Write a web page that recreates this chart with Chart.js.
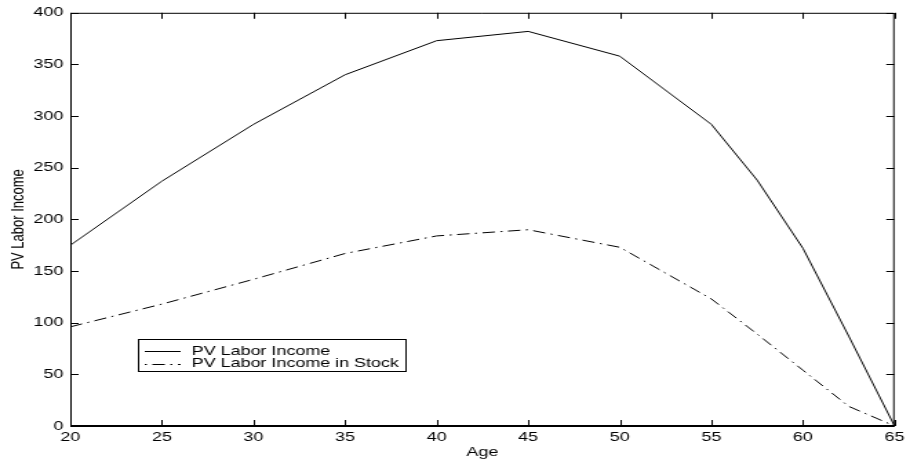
<!DOCTYPE html>
<html>
<head>
<meta charset="utf-8">
<title>PV Labor Income</title>
<script src="https://cdn.jsdelivr.net/npm/chart.js@4.4.1/dist/chart.umd.min.js"></script>
<style>
  html, body { margin: 0; padding: 0; background: #fff; overflow: hidden; }
  /* the figure is drawn narrow and stretched sideways, like the original export */
  #wrap { width: 660px; height: 465px; transform: scaleX(1.37879); transform-origin: 0 0; }
  canvas { display: block; }
</style>
</head>
<body>
<div id="wrap"><canvas id="chart" width="660" height="465"></canvas></div>
<script>
// ----------------------------------------
// Data
// ----------------------------------------
const ages = [20, 25, 30, 35, 40, 45, 50, 55, 57.5, 60, 62.5, 65];
const laborIncome = [175, 237, 292, 340, 373, 382, 358, 292, 238, 172, 87, 0];
const laborIncomeStock = [96, 118, 142, 167, 184, 190, 173, 123, 89, 54, 19, 0];
const seriesLabels = ["PV Labor Income", "PV Labor Income in Stock"];
const xTitle = "Age";
const yTitle = "PV Labor Income";

const FONT = "'Liberation Sans', Arial, Helvetica, sans-serif";

function toPoints(values) {
    return values.map((v, i) => ({ x: ages[i], y: v }));
}

// ----------------------------------------
// Box with inward ticks (matlab style)
// ----------------------------------------
const axesBox = {
    id: "axesBox",
    afterDatasetsDraw(chart) {
        const { ctx, chartArea: a, scales } = chart;
        const len = 6;
        ctx.save();
        ctx.strokeStyle = "#000";
        ctx.lineWidth = 1;
        ctx.beginPath();
        ctx.moveTo(a.left + 0.5, a.bottom);
        ctx.lineTo(a.left + 0.5, a.top + 0.5);
        ctx.lineTo(a.right - 0.5, a.top + 0.5);
        ctx.lineTo(a.right - 0.5, a.bottom);
        ctx.stroke();

        ctx.lineWidth = 2;
        ctx.beginPath();
        ctx.moveTo(a.left, a.bottom);
        ctx.lineTo(a.right, a.bottom);
        ctx.stroke();

        ctx.lineWidth = 1;
        ctx.beginPath();
        scales.x.ticks.forEach((t) => {
            const px = Math.round(scales.x.getPixelForValue(t.value)) + 0.5;
            ctx.moveTo(px, a.bottom);
            ctx.lineTo(px, a.bottom - len);
            ctx.moveTo(px, a.top);
            ctx.lineTo(px, a.top + len);
        });
        scales.y.ticks.forEach((t) => {
            const py = Math.round(scales.y.getPixelForValue(t.value)) + 0.5;
            ctx.moveTo(a.left, py);
            ctx.lineTo(a.left + len, py);
            ctx.moveTo(a.right, py);
            ctx.lineTo(a.right - len, py);
        });
        ctx.stroke();
        ctx.restore();
    }
};

// ----------------------------------------
// Legend box inside the plot
// ----------------------------------------
const boxLegend = {
    id: "boxLegend",
    afterDraw(chart) {
        const { ctx } = chart;
        const left = 100, top = 339, right = 295, bottom = 372;
        const rows = [351, 363.5];
        ctx.save();
        ctx.fillStyle = "#fff";
        ctx.fillRect(left, top, right - left, bottom - top);
        ctx.strokeStyle = "#000";
        ctx.lineWidth = 1;
        ctx.strokeRect(left + 0.5, top + 0.5, right - left - 1, bottom - top - 1);

        chart.data.datasets.forEach((ds, i) => {
            const y = Math.round(rows[i]) + 0.5;
            ctx.beginPath();
            ctx.strokeStyle = ds.borderColor;
            ctx.lineWidth = ds.borderWidth;
            ctx.setLineDash(ds.borderDash || []);
            ctx.lineDashOffset = ds.borderDash ? 13 : 0;
            ctx.moveTo(105, y);
            ctx.lineTo(131, y);
            ctx.stroke();
            ctx.setLineDash([]);

            ctx.fillStyle = "#000";
            ctx.font = "13px " + FONT;
            ctx.textAlign = "left";
            ctx.textBaseline = "middle";
            ctx.fillText(ds.label, 139, rows[i]);
        });
        ctx.restore();
    }
};

const chart = new Chart(document.getElementById("chart"), {
    type: "line",
    data: {
        datasets: [
            {
                label: seriesLabels[0],
                data: toPoints(laborIncome),
                borderColor: "#000",
                borderWidth: 1,
                pointRadius: 0,
                tension: 0,
                fill: false
            },
            {
                label: seriesLabels[1],
                data: toPoints(laborIncomeStock),
                borderColor: "#000",
                borderWidth: 1,
                borderDash: [9, 4, 1.5, 4],
                pointRadius: 0,
                tension: 0,
                fill: false
            }
        ]
    },
    options: {
        responsive: false,
        animation: false,
        devicePixelRatio: 1,
        layout: { padding: { top: 8, right: 9, left: 0, bottom: 0 } },
        plugins: {
            legend: { display: false },
            tooltip: { enabled: false }
        },
        scales: {
            x: {
                type: "linear",
                min: 20,
                max: 65,
                afterFit(scale) { scale.height = 39; },
                grid: { display: false, drawTicks: false },
                border: { display: false },
                ticks: {
                    stepSize: 5,
                    autoSkip: false,
                    maxRotation: 0,
                    padding: 4,
                    color: "#000",
                    font: { family: FONT, size: 13 }
                },
                title: {
                    display: true,
                    text: xTitle,
                    color: "#000",
                    padding: { top: 0, bottom: 5 },
                    font: { family: FONT, size: 13 }
                }
            },
            y: {
                min: 0,
                max: 400,
                afterFit(scale) { scale.width = 51; },
                grid: { display: false, drawTicks: false },
                border: { display: false },
                ticks: {
                    stepSize: 50,
                    autoSkip: false,
                    padding: 5,
                    color: "#000",
                    font: { family: FONT, size: 13 }
                },
                title: {
                    display: true,
                    text: yTitle,
                    color: "#000",
                    padding: { top: 6, bottom: 0 },
                    font: { family: FONT, size: 13 }
                }
            }
        }
    },
    plugins: [axesBox, boxLegend]
});
</script>
</body>
</html>
